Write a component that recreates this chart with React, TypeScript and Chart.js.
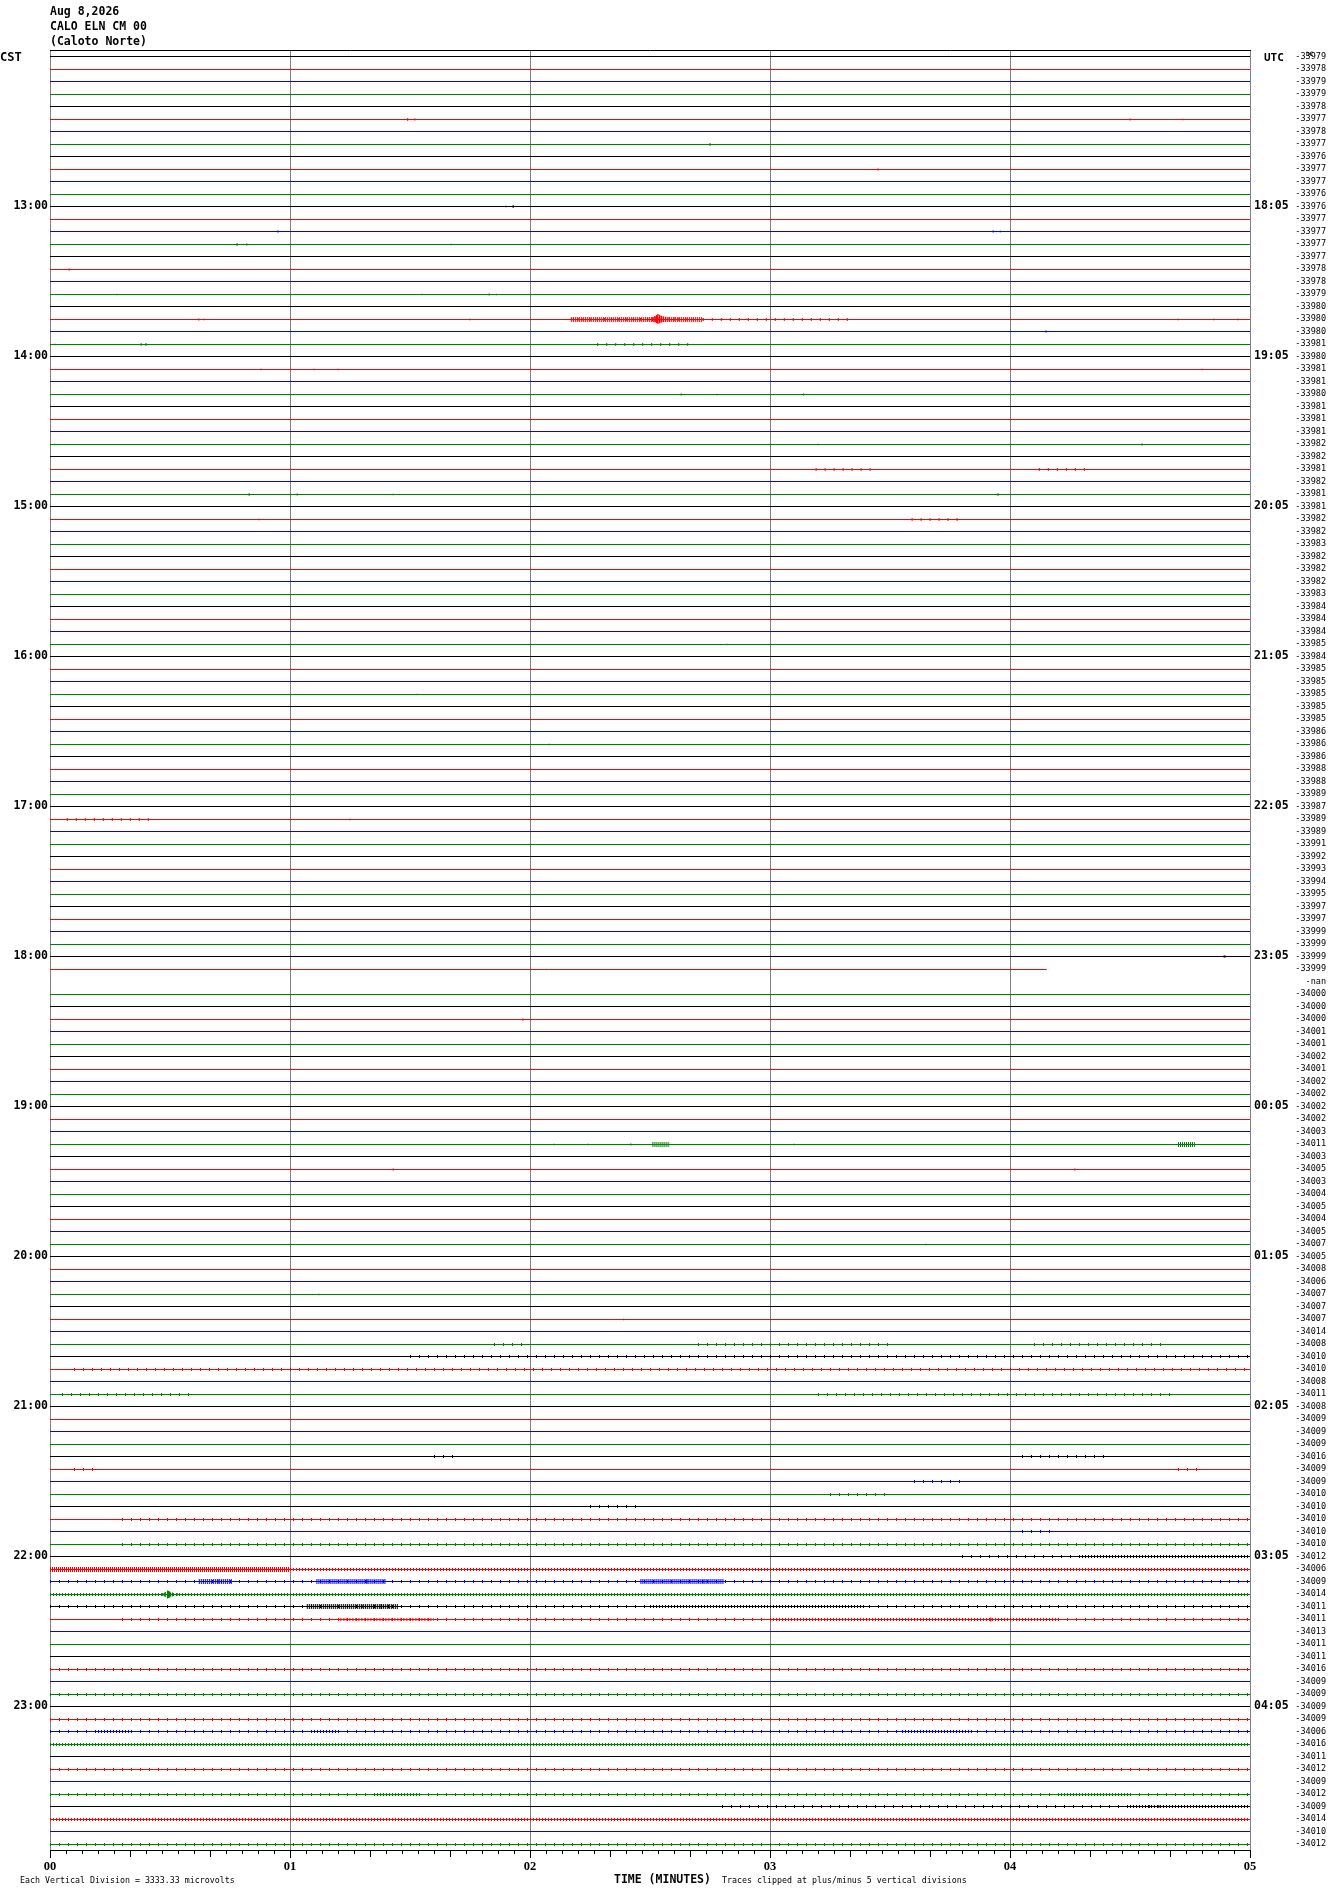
import React, { useEffect, useRef } from "react";
import { Chart, registerables } from "chart.js";

Chart.register(...registerables);

// ---------- data ----------
const TITLE_LINES = ["Aug 8,2026", "CALO ELN CM 00", "(Caloto Norte)"];
const ROW_COUNT = 144;
const MINUTE_TICKS = [0, 1, 2, 3, 4, 5];
const MINUTE_LABELS = ["00", "01", "02", "03", "04", "05"];
const HOUR_ROWS = [12, 24, 36, 48, 60, 72, 84, 96, 108, 120, 132];
const CST_LABELS = ["13:00", "14:00", "15:00", "16:00", "17:00", "18:00", "19:00", "20:00", "21:00", "22:00", "23:00"];
const UTC_LABELS = ["18:05", "19:05", "20:05", "21:05", "22:05", "23:05", "00:05", "01:05", "02:05", "03:05", "04:05"];
const DC_LABELS = [
  "-33979", "-33978", "-33979", "-33979", "-33978", "-33977", "-33978", "-33977", "-33976", "-33977", "-33977", "-33976",
  "-33976", "-33977", "-33977", "-33977", "-33977", "-33978", "-33978", "-33979", "-33980", "-33980", "-33980", "-33981",
  "-33980", "-33981", "-33981", "-33980", "-33981", "-33981", "-33981", "-33982", "-33982", "-33981", "-33982", "-33981",
  "-33981", "-33982", "-33982", "-33983", "-33982", "-33982", "-33982", "-33983", "-33984", "-33984", "-33984", "-33985",
  "-33984", "-33985", "-33985", "-33985", "-33985", "-33985", "-33986", "-33986", "-33986", "-33988", "-33988", "-33989",
  "-33987", "-33989", "-33989", "-33991", "-33992", "-33993", "-33994", "-33995", "-33997", "-33997", "-33999", "-33999",
  "-33999", "-33999", "-nan", "-34000", "-34000", "-34000", "-34001", "-34001", "-34002", "-34001", "-34002", "-34002",
  "-34002", "-34002", "-34003", "-34011", "-34003", "-34005", "-34003", "-34004", "-34005", "-34004", "-34005", "-34007",
  "-34005", "-34008", "-34006", "-34007", "-34007", "-34007", "-34014", "-34008", "-34010", "-34010", "-34008", "-34011",
  "-34008", "-34009", "-34009", "-34009", "-34016", "-34009", "-34009", "-34010", "-34010", "-34010", "-34010", "-34010",
  "-34012", "-34006", "-34009", "-34014", "-34011", "-34011", "-34013", "-34011", "-34011", "-34016", "-34009", "-34009",
  "-34009", "-34009", "-34006", "-34016", "-34011", "-34012", "-34009", "-34012", "-34009", "-34014", "-34010", "-34012",
];
const TRACE_COLORS = ["#000000", "#ff0000", "#0000ff", "#008000"];

// rows that stop early / have no data
const PARTIAL_ROWS = [73];
const PARTIAL_END = [4.153];
const MISSING_ROWS = [74];

// noise bands: [row, fromMinute, toMinute, level]
const NOISE_BANDS: [number, number, number, number][] = [
  [21, 2.17, 2.72, 3], [21, 2.72, 3.35, 1],
  [23, 2.28, 2.66, 1],
  [33, 3.19, 3.42, 1], [33, 4.12, 4.32, 1],
  [37, 3.59, 3.79, 1],
  [61, 0.07, 0.42, 1],
  [87, 2.51, 2.58, 3], [87, 4.70, 4.77, 3],
  [103, 1.85, 2.0, 1], [103, 2.7, 3.5, 1], [103, 4.1, 4.65, 1],
  [104, 1.5, 5, 1],
  [105, 0.1, 5, 1],
  [107, 0.05, 0.6, 1], [107, 3.2, 4.7, 1],
  [112, 1.6, 1.7, 1], [112, 4.05, 4.4, 1],
  [113, 0.1, 0.2, 1], [113, 4.7, 4.8, 1],
  [114, 3.6, 3.8, 1],
  [115, 3.25, 3.5, 1],
  [116, 2.25, 2.45, 1],
  [117, 0.3, 5, 1],
  [118, 4.05, 4.2, 1],
  [119, 0.3, 5, 1],
  [120, 3.8, 4.3, 1], [120, 4.3, 5, 2],
  [121, 0, 1.0, 3], [121, 1.0, 5, 2],
  [122, 0, 5, 1], [122, 0.62, 0.76, 3], [122, 1.11, 1.4, 3], [122, 2.46, 2.81, 3],
  [123, 0, 5, 2],
  [124, 0, 5, 1], [124, 1.07, 1.45, 3], [124, 2.5, 3.4, 2],
  [125, 0.3, 5, 1], [125, 1.21, 1.6, 2], [125, 3.0, 4.2, 2],
  [129, 0, 5, 1],
  [131, 0, 5, 1],
  [133, 0, 5, 1],
  [134, 0, 5, 1], [134, 0.2, 0.35, 2], [134, 1.1, 1.2, 2], [134, 3.55, 3.85, 2],
  [135, 0, 5, 2],
  [137, 0, 5, 1],
  [139, 0, 5, 1], [139, 1.35, 1.55, 2], [139, 4.2, 4.5, 2],
  [140, 2.8, 5, 1], [140, 4.5, 5, 2],
  [141, 0, 5, 2],
  [143, 0, 5, 1],
];

// isolated spikes: [row, minute, amplitude in divisions]
const SPIKES: [number, number, number][] = [
  [5, 1.49, 0.1], [5, 1.52, 0.08], [5, 4.5, 0.08], [5, 4.72, 0.06],
  [7, 2.75, 0.1], [9, 3.45, 0.08], [12, 1.9, 0.06], [12, 1.93, 0.1],
  [14, 0.95, 0.08], [14, 3.93, 0.08], [14, 3.96, 0.06],
  [15, 0.78, 0.1], [15, 0.82, 0.08], [15, 1.67, 0.06],
  [17, 0.08, 0.08], [19, 0.28, 0.06], [19, 1.55, 0.06], [19, 1.83, 0.08], [19, 1.86, 0.06],
  [21, 0.62, 0.08], [21, 0.64, 0.06], [21, 1.75, 0.06], [21, 4.7, 0.06], [21, 4.85, 0.06], [21, 4.95, 0.06],
  [22, 4.15, 0.08], [23, 0.02, 0.06], [23, 0.38, 0.1], [23, 0.4, 0.1],
  [25, 0.88, 0.06], [25, 1.1, 0.06], [25, 1.2, 0.06], [25, 4.8, 0.06],
  [27, 2.63, 0.08], [27, 2.78, 0.06], [27, 3.14, 0.08],
  [31, 0.02, 0.06], [31, 3.2, 0.06], [31, 4.55, 0.08],
  [35, 0.83, 0.1], [35, 1.03, 0.08], [35, 1.43, 0.06], [35, 3.95, 0.1],
  [37, 0.87, 0.06], [47, 2.82, 0.06], [51, 1.53, 0.06], [55, 2.08, 0.06],
  [61, 1.25, 0.06], [77, 1.97, 0.08],
  [87, 2.1, 0.06], [87, 2.24, 0.06], [87, 2.42, 0.08], [87, 3.1, 0.06],
  [89, 1.43, 0.08], [89, 4.27, 0.08], [95, 3.65, 0.06], [99, 1.12, 0.06], [101, 2.39, 0.06],
  [123, 0.47, 0.12], [123, 0.48, 0.2], [123, 0.49, 0.32], [123, 0.495, 0.28], [123, 0.5, 0.22], [123, 0.51, 0.16], [123, 0.53, 0.1],
  [124, 1.3, 0.14], [124, 1.35, 0.16], [124, 1.38, 0.2], [124, 1.41, 0.14],
  [122, 0.7, 0.16], [122, 1.32, 0.16], [122, 2.72, 0.14],
  [125, 3.92, 0.16], [140, 4.58, 0.12], [140, 4.62, 0.1],
];

// the event on the 13:45 line
const QUAKE_ROW = 21;
const QUAKE_MINUTES = [2.18, 2.2, 2.22, 2.25, 2.28, 2.31, 2.34, 2.37, 2.4, 2.43, 2.46, 2.49, 2.51, 2.52, 2.527, 2.533, 2.54, 2.547, 2.555, 2.565, 2.58, 2.6, 2.62, 2.65, 2.68, 2.72, 2.8, 2.9, 3.0, 3.1, 3.2, 3.3];
const QUAKE_AMPS = [0.1, 0.12, 0.1, 0.14, 0.1, 0.12, 0.1, 0.12, 0.14, 0.1, 0.12, 0.14, 0.18, 0.28, 0.36, 0.44, 0.38, 0.3, 0.26, 0.22, 0.2, 0.18, 0.14, 0.12, 0.1, 0.08, 0.06, 0.06, 0.05, 0.05, 0.05, 0.05];

// single dot samples: [row, minute]
const DOTS: [number, number][] = [[72, 4.894]];

// ---------- styling helpers ----------
const MONO = '"DejaVu Sans Mono", monospace';
const Y_MIN = -0.44;
const Y_MAX = 143.48;

function colorOf(row: number) {
  return TRACE_COLORS[row % 4];
}
// noise texture per level: width of the band and its dash pattern
const LEVEL_WIDTH = [1, 3, 3, 5];
const LEVEL_DASH = [[], [1, 8], [1, 2], [1, 1]];

const snapPlugin = {
  id: "snapRows",
  beforeDatasetDraw(chart: any, args: any) {
    const ds = chart.data.datasets[args.index];
    if (ds.snapRow === undefined) return;
    const py = chart.scales.y.getPixelForValue(ds.snapRow);
    const target = Math.floor(py) + 0.5;
    chart.ctx.save();
    chart.ctx.translate(0, target - py);
  },
  afterDatasetDraw(chart: any, args: any) {
    const ds = chart.data.datasets[args.index];
    if (ds.snapRow === undefined) return;
    chart.ctx.restore();
  },
};

const decorPlugin = {
  id: "decor",
  afterDraw(chart: any) {
    const { ctx, chartArea } = chart;
    const { left, right, top, bottom } = chartArea;
    const xs = chart.scales.x;
    ctx.save();
    // top frame line
    ctx.strokeStyle = "#000";
    ctx.lineWidth = 1;
    ctx.beginPath();
    ctx.moveTo(left, top - 0.5);
    ctx.lineTo(right + 1, top - 0.5);
    ctx.stroke();
    // minor time ticks (every 2 s, longer every 10 s)
    ctx.beginPath();
    for (let s = 2; s < 150; s += 2) {
      if (s % 30 === 0) continue;
      const px = Math.round(xs.getPixelForValue(s / 30)) + 0.5;
      const len = s % 10 === 0 ? 7 : 4;
      ctx.moveTo(px, bottom);
      ctx.lineTo(px, bottom + len);
    }
    ctx.stroke();

    ctx.fillStyle = "#000";
    ctx.textBaseline = "alphabetic";
    ctx.textAlign = "left";
    ctx.font = `bold 11.5px ${MONO}`;
    TITLE_LINES.forEach((t, i) => ctx.fillText(t, left, 15 + i * 15));
    ctx.font = `bold 12px ${MONO}`;
    ctx.fillText("CST", 0, 61);
    ctx.font = `bold 11px ${MONO}`;
    ctx.fillText("UTC", 1264, 61);
    ctx.font = `bold 6px ${MONO}`;
    ctx.fillText("DC", 1306, 56);

    ctx.font = `8.3px ${MONO}`;
    ctx.fillText("Each Vertical Division = 3333.33 microvolts", 20, 1883);
    ctx.fillText("Traces clipped at plus/minus 5 vertical divisions", 722, 1883);
    ctx.font = `bold 11.5px ${MONO}`;
    ctx.fillText("TIME (MINUTES)", 614, 1883);
    ctx.restore();
  },
};

function buildDatasets() {
  const sets: any[] = [];
  // noise bands under the traces, drawn as a dashed (tick-like) texture
  NOISE_BANDS.forEach(([row, a, b, lvl]) => {
    sets.push({
      data: [{ x: a, y: row }, { x: b, y: row }],
      borderColor: colorOf(row),
      borderWidth: LEVEL_WIDTH[lvl],
      borderDash: LEVEL_DASH[lvl],
      pointRadius: 0,
      order: 3,
      snapRow: row,
    });
  });
  // base traces
  for (let r = 0; r < ROW_COUNT; r++) {
    if (MISSING_ROWS.includes(r)) continue;
    const pi = PARTIAL_ROWS.indexOf(r);
    const end = pi >= 0 ? PARTIAL_END[pi] : 5;
    sets.push({
      data: [{ x: 0, y: r }, { x: end, y: r }],
      borderColor: colorOf(r),
      borderWidth: 1,
      pointRadius: 0,
      order: 2,
      snapRow: r,
    });
  }
  // spikes grouped per row as vertical strokes
  const byRow = new Map<number, any[]>();
  SPIKES.forEach(([row, m, amp]) => {
    if (!byRow.has(row)) byRow.set(row, []);
    byRow.get(row)!.push({ x: m, y: row - amp }, { x: m, y: row + amp }, { x: m, y: null });
  });
  const quakePts: any[] = [];
  QUAKE_MINUTES.forEach((m, i) => {
    quakePts.push({ x: m, y: QUAKE_ROW - QUAKE_AMPS[i] }, { x: m, y: QUAKE_ROW + QUAKE_AMPS[i] * 0.8 }, { x: m, y: null });
  });
  byRow.set(QUAKE_ROW, (byRow.get(QUAKE_ROW) || []).concat(quakePts));
  byRow.forEach((pts, row) => {
    sets.push({
      data: pts,
      borderColor: colorOf(row),
      borderWidth: 1.3,
      pointRadius: 0,
      spanGaps: false,
      order: 1,
      snapRow: row,
    });
  });
  // isolated dots
  sets.push({
    data: DOTS.map(([row, m]) => ({ x: m, y: row })),
    showLine: false,
    pointRadius: 1.5,
    pointStyle: "rect",
    pointBackgroundColor: DOTS.map(([row]) => colorOf(row)),
    pointBorderWidth: 0,
    order: 0,
  });
  return sets;
}

export default function App() {
  const ref = useRef<HTMLCanvasElement | null>(null);
  useEffect(() => {
    if (!ref.current) return;
    const chart = new Chart(ref.current, {
      type: "line",
      data: { datasets: buildDatasets() },
      options: {
        animation: false,
        responsive: false,
        events: [],
        devicePixelRatio: 1,
        layout: { padding: { top: 51, left: 0, right: 4, bottom: 0 } },
        plugins: { legend: { display: false }, tooltip: { enabled: false } },
        elements: { line: { tension: 0, borderCapStyle: "butt" } },
        scales: {
          x: {
            type: "linear",
            min: 0,
            max: 5,
            z: 1,
            afterBuildTicks: (s: any) => {
              s.ticks = MINUTE_TICKS.map((v) => ({ value: v }));
            },
            afterFit: (s: any) => {
              s.height = 44;
            },
            ticks: {
              autoSkip: false,
              maxRotation: 0,
              padding: 1,
              color: "#000",
              font: { family: '"Liberation Serif", serif', size: 12.5, weight: "bold" },
              callback: (v: any) => MINUTE_LABELS[MINUTE_TICKS.indexOf(Number(v))],
            },
            grid: { display: true, color: "#808080", lineWidth: 1, drawTicks: true, tickLength: 8, tickColor: "#000" },
            border: { display: true, color: "#000", width: 1 },
          },
          y: {
            type: "linear",
            position: "left",
            reverse: true,
            min: Y_MIN,
            max: Y_MAX,
            afterBuildTicks: (s: any) => {
              s.ticks = HOUR_ROWS.map((v) => ({ value: v }));
            },
            afterFit: (s: any) => {
              s.width = 50;
            },
            ticks: {
              autoSkip: false,
              padding: 2,
              color: "#000",
              font: { family: MONO, size: 11.5, weight: "bold" },
              callback: (v: any) => CST_LABELS[HOUR_ROWS.indexOf(Number(v))],
            },
            grid: { display: false, drawTicks: false },
            border: { display: false },
          },
          yUtc: {
            type: "linear",
            position: "right",
            reverse: true,
            min: Y_MIN,
            max: Y_MAX,
            weight: 0,
            afterBuildTicks: (s: any) => {
              s.ticks = HOUR_ROWS.map((v) => ({ value: v }));
            },
            afterFit: (s: any) => {
              s.width = 44;
            },
            ticks: {
              autoSkip: false,
              padding: 4,
              color: "#000",
              font: { family: MONO, size: 11.5, weight: "bold" },
              callback: (v: any) => UTC_LABELS[HOUR_ROWS.indexOf(Number(v))],
            },
            grid: { display: false, drawTicks: false },
            border: { display: false },
          },
          yDc: {
            type: "linear",
            position: "right",
            reverse: true,
            min: Y_MIN,
            max: Y_MAX,
            weight: 1,
            afterBuildTicks: (s: any) => {
              s.ticks = DC_LABELS.map((_, i) => ({ value: i }));
            },
            afterFit: (s: any) => {
              s.width = 32;
            },
            ticks: {
              autoSkip: false,
              padding: 0,
              crossAlign: "far",
              color: "#000",
              font: { family: MONO, size: 8.5 },
              callback: (v: any) => DC_LABELS[Math.round(Number(v))],
            },
            grid: { display: false, drawTicks: false },
            border: { display: false },
          },
        },
      } as any,
      plugins: [snapPlugin, decorPlugin],
    });
    return () => chart.destroy();
  }, []);
  return (
    <div style={{ position: "absolute", left: 0, top: 0, width: 1330, height: 1894, background: "#fff" }}>
      <canvas ref={ref} width={1330} height={1894} style={{ display: "block" }} />
    </div>
  );
}
